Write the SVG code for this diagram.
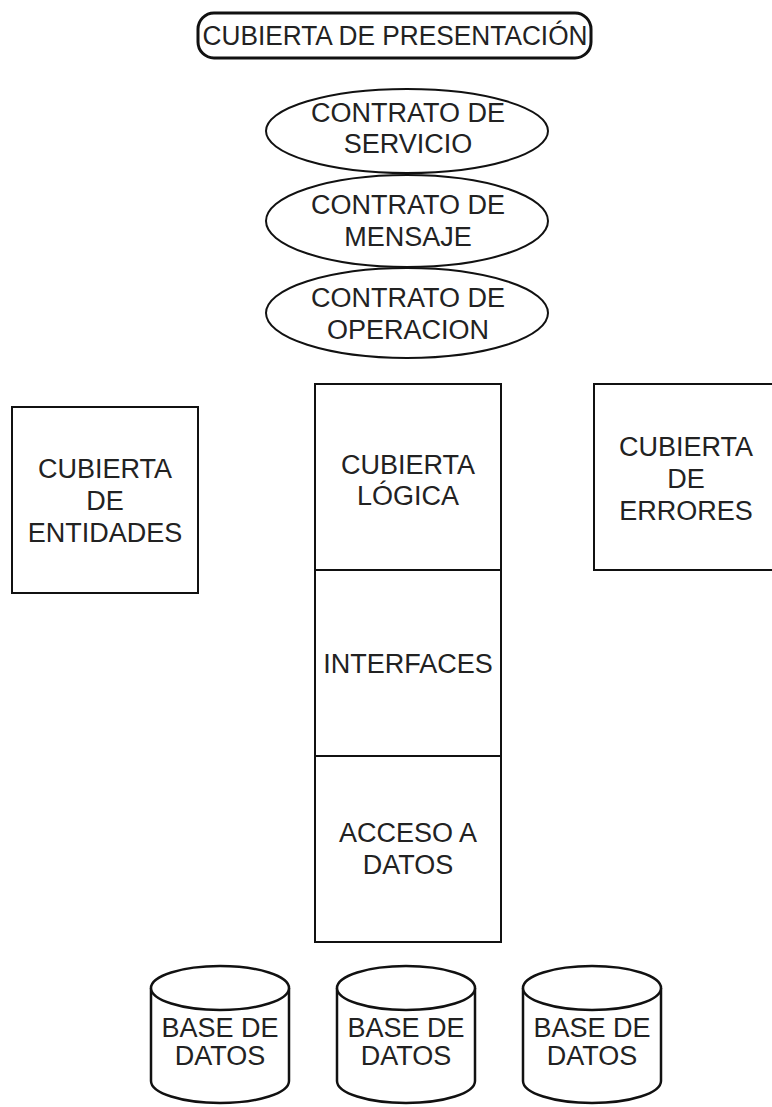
<svg xmlns="http://www.w3.org/2000/svg" width="772" height="1107" viewBox="0 0 772 1107">
<style>
.s{fill:#fff;stroke:#111;stroke-width:2}
.t{font-family:"Liberation Sans",Arial,sans-serif;font-size:27px;fill:#222;text-anchor:middle}
</style>
<rect width="772" height="1107" fill="#fff"/>
<g id="presentacion">
<rect class="s" x="198" y="13" width="393" height="45" rx="16" style="stroke-width:3"/>
<text class="t" x="395" y="45" textLength="385" lengthAdjust="spacingAndGlyphs">CUBIERTA DE PRESENTACIÓN</text>
</g>
<g id="servicio">
<ellipse class="s" cx="407" cy="131" rx="141" ry="42"/>
<text class="t" x="408" y="122">CONTRATO DE</text>
<text class="t" x="408" y="153">SERVICIO</text>
</g>
<g id="mensaje">
<ellipse class="s" cx="407" cy="221" rx="141" ry="46"/>
<text class="t" x="408" y="214">CONTRATO DE</text>
<text class="t" x="408" y="246">MENSAJE</text>
</g>
<g id="operacion">
<ellipse class="s" cx="407" cy="313" rx="141" ry="45"/>
<text class="t" x="408" y="307">CONTRATO DE</text>
<text class="t" x="408" y="339">OPERACION</text>
</g>
<g id="entidades">
<rect class="s" x="12" y="407" width="186" height="186"/>
<text class="t" x="105" y="478">CUBIERTA</text>
<text class="t" x="105" y="510">DE</text>
<text class="t" x="105" y="542">ENTIDADES</text>
</g>
<g id="logica">
<rect class="s" x="315" y="384" width="186" height="186"/>
<text class="t" x="408" y="474">CUBIERTA</text>
<text class="t" x="408" y="505">LÓGICA</text>
</g>
<g id="interfaces">
<rect class="s" x="315" y="570" width="186" height="186"/>
<text class="t" x="408" y="673">INTERFACES</text>
</g>
<g id="acceso">
<rect class="s" x="315" y="756" width="186" height="186"/>
<text class="t" x="408" y="842">ACCESO A</text>
<text class="t" x="408" y="874">DATOS</text>
</g>
<g id="errores">
<rect class="s" x="594" y="384" width="186" height="186"/>
<text class="t" x="686" y="456">CUBIERTA</text>
<text class="t" x="686" y="488">DE</text>
<text class="t" x="686" y="520">ERRORES</text>
</g>
<g id="bd1">
<path class="s" d="M151 988 V1081 A69 22 0 0 0 289 1081 V988" style="stroke-width:2.5"/>
<ellipse class="s" cx="220" cy="988" rx="69" ry="22" style="stroke-width:2.5"/>
<text class="t" x="220" y="1037">BASE DE</text>
<text class="t" x="220" y="1065">DATOS</text>
</g>
<g id="bd2">
<path class="s" d="M337 988 V1081 A69 22 0 0 0 475 1081 V988" style="stroke-width:2.5"/>
<ellipse class="s" cx="406" cy="988" rx="69" ry="22" style="stroke-width:2.5"/>
<text class="t" x="406" y="1037">BASE DE</text>
<text class="t" x="406" y="1065">DATOS</text>
</g>
<g id="bd3">
<path class="s" d="M523 988 V1081 A69 22 0 0 0 661 1081 V988" style="stroke-width:2.5"/>
<ellipse class="s" cx="592" cy="988" rx="69" ry="22" style="stroke-width:2.5"/>
<text class="t" x="592" y="1037">BASE DE</text>
<text class="t" x="592" y="1065">DATOS</text>
</g>
<g id="connectors"></g>
</svg>
